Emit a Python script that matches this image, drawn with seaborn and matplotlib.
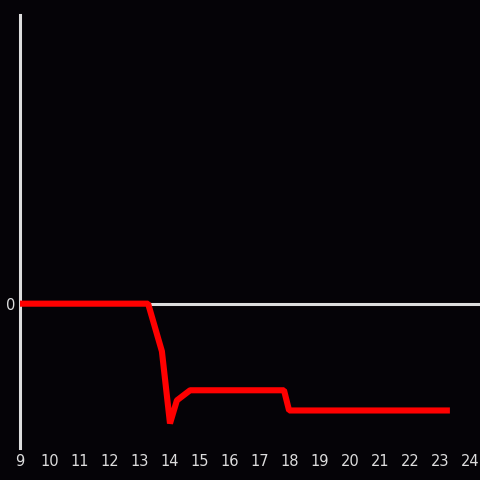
import matplotlib
matplotlib.use("Agg")

import matplotlib.pyplot as plt
import seaborn as sns
import pandas as pd

sns.set_theme(style="dark")

hours = [9.0, 13.27, 13.73, 14.0, 14.23, 14.67, 17.8, 17.97, 23.33]
values = [0.0, 0.0, -0.33, -0.83, -0.67, -0.6, -0.6, -0.74, -0.74]
x_ticks = list(range(9, 25))

bg = "#050307"
fg = "#dddddd"

df = pd.DataFrame({"hour": hours, "value": values})

fig = plt.figure(figsize=(4.8, 4.8), dpi=100, facecolor=bg)
ax = fig.add_axes([20 / 480, 32 / 480, 460 / 480, 433 / 480])
ax.set_facecolor(bg)

ax.axhline(0, color=fg, lw=2.2, zorder=1)
sns.lineplot(data=df, x="hour", y="value", ax=ax, color="#ff0000", lw=4.4,
             solid_joinstyle="bevel", solid_capstyle="butt", zorder=3)

ax.set_xlim(9, 9 + 460 / 30)
ax.set_ylim(-1, 2)
ax.set_xticks(x_ticks)
ax.set_yticks([0])
ax.set_yticklabels(["0"])
ax.tick_params(axis="y", colors=fg, labelsize=10.5, length=0, pad=3)
ax.tick_params(axis="x", colors=fg, labelsize=10.5, length=0, pad=4)
ax.set_xlabel("")
ax.set_ylabel("")
ax.grid(False)

for side in ["top", "right", "bottom"]:
    ax.spines[side].set_visible(False)
ax.spines["left"].set_color(fg)
ax.spines["left"].set_linewidth(2.2)

fig.savefig("out.png", dpi=100, facecolor=bg)
